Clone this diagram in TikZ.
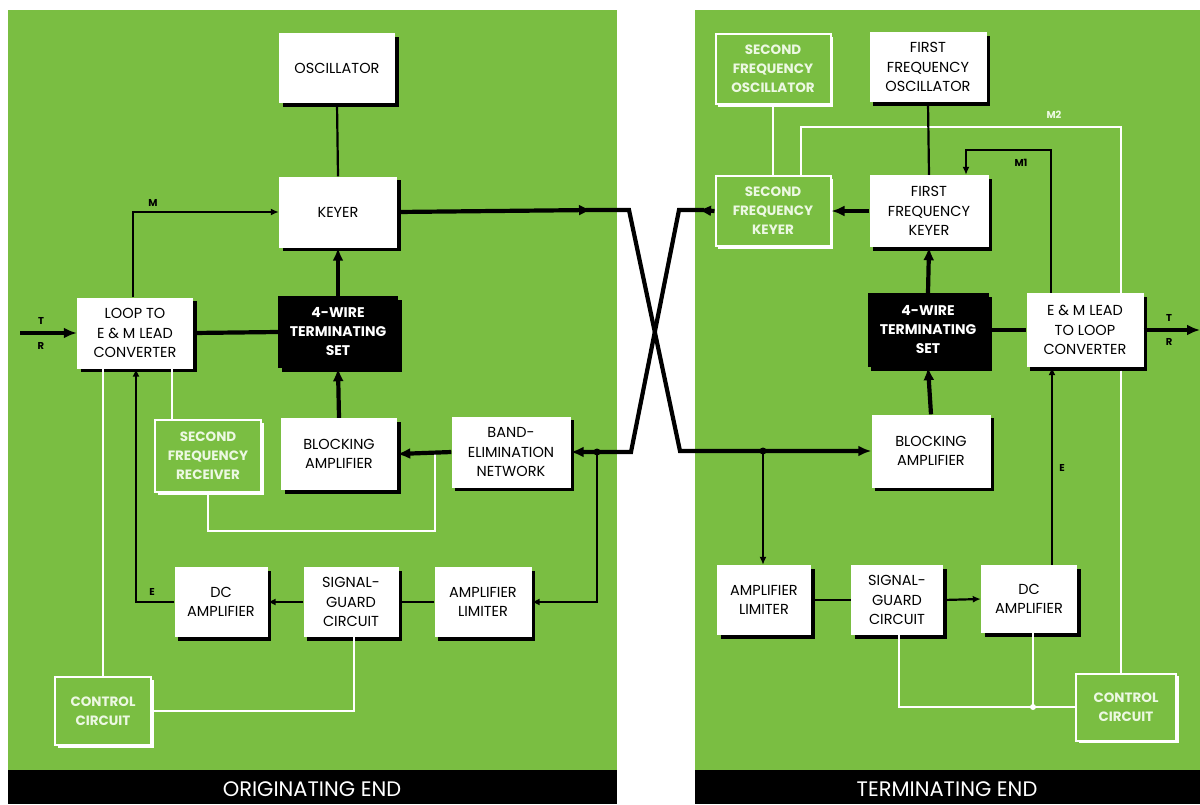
\documentclass[tikz,border=0pt]{standalone}
\usepackage{fontspec}
\setmainfont{Poppins}
\usetikzlibrary{arrows.meta}
\definecolor{panelgreen}{RGB}{122,190,66}
\definecolor{paletext}{RGB}{236,248,226}

\begin{document}
\begin{tikzpicture}[x=1pt, y=-1pt,
                    box/.style={fill=white, align=center, inner sep=0,
                                font=\fontsize{14.5}{19.5}\selectfont,
                                preaction={fill=black, transform canvas={xshift=3.5pt, yshift=-3.5pt}}},
                    blackbox/.style={box, fill=black, text=white, font=\fontsize{14}{19}\selectfont\bfseries},
                    greenbox/.style={fill=panelgreen, draw=white, line width=2pt, align=center, inner sep=0,
                                     text=paletext, font=\fontsize{13.5}{19}\selectfont\bfseries,
                                     preaction={fill=white, transform canvas={xshift=2.5pt, yshift=-2.5pt}}},
                    thickline/.style={line width=4.2pt, -{Latex[length=13pt,width=11pt]}},
                    thinline/.style={line width=2.2pt},
                    thinarrow/.style={thinline, -{Latex[length=8pt,width=7pt]}},
                    whiteline/.style={white, line width=2.6pt},
                    lbl/.style={font=\fontsize{10}{10}\selectfont\bfseries, inner sep=0},
                    bartext/.style={text=white, font=\fontsize{21}{21}\selectfont}]
    \useasboundingbox (0,0) rectangle (1200,804);
    \fill[panelgreen] (8,10) rectangle (617,770);
    \fill[black] (8,770) rectangle (617,804);
    \fill[panelgreen] (695,10) rectangle (1200,770);
    \fill[black] (695,770) rectangle (1200,804);
    \node[bartext] (orig) at (312,789) {ORIGINATING END};
    \node[bartext] (term) at (947,789) {TERMINATING END};

    \node[box, minimum width=116pt, minimum height=70pt] (osc) at (337,68) {OSCILLATOR};
    \node[box, minimum width=118pt, minimum height=71pt] (keyer) at (338,212) {KEYER};
    \node[box, minimum width=116pt, minimum height=71pt] (loop) at (135,333) {LOOP TO\\E \& M LEAD\\CONVERTER};
    \node[blackbox, minimum width=120pt, minimum height=72pt] (fourw) at (338,332) {4-WIRE\\TERMINATING\\SET};
    \node[greenbox, minimum width=106pt, minimum height=72pt] (sfrec) at (208,456) {SECOND\\FREQUENCY\\RECEIVER};
    \node[box, minimum width=116pt, minimum height=72pt] (block) at (339,454) {BLOCKING\\AMPLIFIER};
    \node[box, minimum width=119pt, minimum height=71pt] (band) at (511,452) {BAND-\\ELIMINATION\\NETWORK};
    \node[box, minimum width=93pt, minimum height=70pt] (dcamp) at (221,602) {DC\\AMPLIFIER};
    \node[box, minimum width=95pt, minimum height=70pt] (sguard) at (351,602) {SIGNAL-\\GUARD\\CIRCUIT};
    \node[box, minimum width=97pt, minimum height=70pt] (amplim) at (483,602) {AMPLIFIER\\LIMITER};
    \node[greenbox, minimum width=96pt, minimum height=68pt] (ctrl) at (103,711) {CONTROL\\CIRCUIT};

    \node[greenbox, minimum width=115pt, minimum height=70pt] (sfosc) at (773,69) {SECOND\\FREQUENCY\\OSCILLATOR};
    \node[box, minimum width=117pt, minimum height=70pt] (ffosc) at (928,67) {FIRST\\FREQUENCY\\OSCILLATOR};
    \node[greenbox, minimum width=115pt, minimum height=70pt] (sfkey) at (773,211) {SECOND\\FREQUENCY\\KEYER};
    \node[box, minimum width=119pt, minimum height=72pt] (ffkey) at (929,211) {FIRST\\FREQUENCY\\KEYER};
    \node[blackbox, minimum width=121pt, minimum height=74pt] (fourwr) at (928,330) {4-WIRE\\TERMINATING\\SET};
    \node[box, minimum width=117pt, minimum height=74pt] (emlead) at (1085,330) {E \& M LEAD\\TO LOOP\\CONVERTER};
    \node[box, minimum width=119pt, minimum height=73pt] (blockr) at (931,451) {BLOCKING\\AMPLIFIER};
    \node[box, minimum width=94pt, minimum height=70pt] (amplimr) at (764,600) {AMPLIFIER\\LIMITER};
    \node[box, minimum width=92pt, minimum height=70pt] (sguardr) at (897,600) {SIGNAL-\\GUARD\\CIRCUIT};
    \node[box, minimum width=96pt, minimum height=68pt] (dcampr) at (1029,599) {DC\\AMPLIFIER};
    \node[greenbox, minimum width=100pt, minimum height=67pt] (ctrlr) at (1126,707) {CONTROL\\CIRCUIT};

    \coordinate (trl) at (20,333);
    \coordinate (trr) at (1200,330);
    \coordinate (xa) at (629,210);
    \coordinate (xb) at (680,451);
    \coordinate (xc) at (679,210);
    \coordinate (xd) at (631,452);
    \coordinate (ka) at (592,210);
    \coordinate (kb) at (698,210);
    \coordinate (jl) at (597,452);
    \coordinate (jr) at (763,451);
    \coordinate (sfj) at (435,452);
    \coordinate (m1) at (966,150);
    \coordinate (m2) at (1121,127);
    \coordinate (cj) at (1033,707);

    \draw[whiteline] (ctrl.north) -- (ctrl.north |- loop.south);
    \draw[whiteline] ([xshift=-36pt]sfrec.north) -- ([xshift=-36pt]sfrec.north |- loop.south);
    \draw[whiteline] (sfrec.south) -- ++(0,38) -| (sfj);
    \draw[whiteline] ([xshift=3pt]sguard.south) |- (ctrl.east);
    \draw[whiteline] (sfosc.south) -- (sfkey.north);
    \draw[whiteline] ([xshift=28pt]sfkey.north) |- (m2) -- (m2 |- emlead.north);
    \draw[whiteline] (m2 |- emlead.south) ++(0,3.5) -- (m2 |- ctrlr.north);
    \draw[whiteline] ([xshift=2pt]sguardr.south) |- (ctrlr.west);
    \draw[whiteline] (cj |- dcampr.south) -- (cj);
    \fill[white] (cj) circle (3pt);

    \draw[thinline] (osc.south) -- (keyer.north);
    \draw[thickline] (fourw.north) -- (keyer.south);
    \draw[thickline] (block.north) -- (fourw.south);
    \draw[thickline, -] (loop.east) -- (fourw.west);
    \draw[thickline] (trl) -- (loop.west);
    \draw[thickline] (band.west) -- (block.east);
    \draw[thinarrow] ([xshift=-2pt]loop.north) |- (keyer.west);
    \draw[thinarrow] (dcamp.west) -| ([xshift=1pt]loop.south);
    \draw[thinline] (amplim.west) -- (sguard.east);
    \draw[thinarrow] (sguard.west) -- (dcamp.east);
    \draw[thinarrow] (jl) |- (amplim.east);
    \fill (jl) circle (3.5pt);

    \draw[thickline] (keyer.east) -- (ka);
    \draw[thickline, line join=miter] ([xshift=-6pt]ka) -- (xa) -- (xb) -- (blockr.west);
    \draw[thickline] (sfkey.west) -- (kb);
    \draw[thickline, line join=miter] ([xshift=6pt]kb) -- (xc) -- (xd) -- (band.east);

    \draw[thinline] (ffosc.south) -- (ffkey.north);
    \draw[thickline] (ffkey.west) -- (sfkey.east);
    \draw[thickline] (fourwr.north) -- (ffkey.south);
    \draw[thickline] (blockr.north) -- (fourwr.south);
    \draw[thickline, -] (fourwr.east) -- (emlead.west);
    \draw[thickline] (emlead.east) -- (trr);
    \draw[thinarrow] ([xshift=-34pt]emlead.north) |- (m1) -- (m1 |- ffkey.north);
    \draw[thinarrow] ([xshift=23pt]dcampr.north) -- ([xshift=23pt]dcampr.north |- emlead.south);
    \draw[thinline] (amplimr.east) -- (sguardr.west);
    \draw[thinarrow] (sguardr.east) -- (dcampr.west);
    \draw[thinarrow] (jr) -- (jr |- amplimr.north);
    \fill (jr) circle (3.5pt);

    \node[lbl] (tl) at (41,321) {T};
    \node[lbl] (rl) at (41,346) {R};
    \node[lbl] (ml) at (153,203) {M};
    \node[lbl] (el) at (152,592) {E};
    \node[lbl] (tr) at (1169,318) {T};
    \node[lbl] (rr) at (1169,342) {R};
    \node[lbl] (m1l) at (1021,163) {M1};
    \node[lbl, text=paletext] (m2l) at (1054,115) {M2};
    \node[lbl] (er) at (1062,468) {E};
\end{tikzpicture}
\end{document}
